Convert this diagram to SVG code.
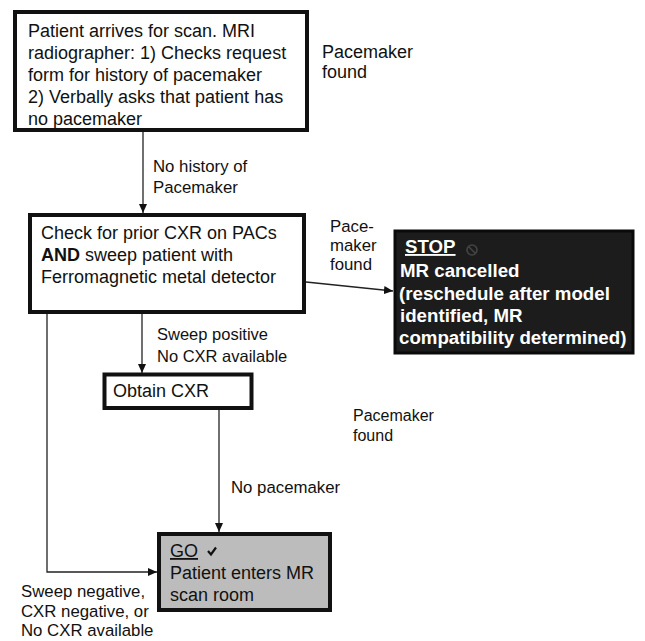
<svg xmlns="http://www.w3.org/2000/svg" width="645" height="641" viewBox="0 0 645 641">
<defs>
<style>
text{font-family:"Liberation Sans",Arial,sans-serif;font-size:18px;fill:#111}
.lb{font-size:16.8px}
.box{fill:#fff;stroke:#111;stroke-width:4}
.wt{fill:#fff;font-weight:bold;font-size:18.7px}
.ln{fill:none;stroke:#222;stroke-width:1.3}
</style>
<marker id="ah" markerWidth="10" markerHeight="10" refX="9" refY="5" orient="auto" markerUnits="userSpaceOnUse">
<path d="M0,1 L9,5 L0,9 z" fill="#111"/>
</marker>
</defs>
<rect width="645" height="641" fill="#fff"/>
<g id="connectors">
<line class="ln" x1="143" y1="132" x2="143" y2="213" marker-end="url(#ah)"/>
<line class="ln" x1="306" y1="282" x2="393" y2="291" marker-end="url(#ah)"/>
<line class="ln" x1="142" y1="314" x2="142" y2="373" marker-end="url(#ah)"/>
<line class="ln" x1="219" y1="409" x2="219" y2="532" marker-end="url(#ah)"/>
<polyline class="ln" points="47,314 47,572 157,572" marker-end="url(#ah)"/>
</g>
<g id="labels">
<text x="322" y="58">Pacemaker</text>
<text x="322" y="78">found</text>
<text class="lb" x="153" y="172">No history of</text>
<text class="lb" x="153" y="193">Pacemaker</text>
<text class="lb" x="330" y="232">Pace-</text>
<text class="lb" x="330" y="251">maker</text>
<text class="lb" x="330" y="270">found</text>
<text class="lb" x="157" y="340" style="font-size:16.5px">Sweep positive</text>
<text class="lb" x="157" y="362" style="font-size:16.5px">No CXR available</text>
<text x="353" y="421" style="font-size:16px">Pacemaker</text>
<text x="353" y="441" style="font-size:16px">found</text>
<text class="lb" x="231" y="493">No pacemaker</text>
<text class="lb" x="21" y="597">Sweep negative,</text>
<text class="lb" x="21" y="616.5">CXR negative, or</text>
<text class="lb" x="21" y="636">No CXR available</text>
</g>
<g id="n1">
<rect class="box" x="15" y="12" width="292" height="118"/>
<text x="28" y="37">Patient arrives for scan. MRI</text>
<text x="28" y="59">radiographer: 1) Checks request</text>
<text x="28" y="81">form for history of pacemaker</text>
<text x="28" y="103">2) Verbally asks that patient has</text>
<text x="28" y="124.5">no pacemaker</text>
</g>
<g id="n2">
<rect class="box" x="30" y="215" width="274" height="97"/>
<text x="41" y="239">Check for prior CXR on PACs</text>
<text x="41" y="261"><tspan font-weight="bold">AND</tspan> sweep patient with</text>
<text x="41" y="283">Ferromagnetic metal detector</text>
</g>
<g id="n3">
<rect x="395" y="231" width="238" height="122" fill="#1c1c1c" stroke="#0a0a0a" stroke-width="3"/>
<text class="wt" x="405" y="253" text-decoration="underline">STOP</text>
<circle cx="472" cy="250" r="5" fill="none" stroke="#444" stroke-width="1.6"/>
<line x1="468.5" y1="246.5" x2="475.5" y2="253.5" stroke="#444" stroke-width="1.6"/>
<text class="wt" x="400" y="277">MR cancelled</text>
<text class="wt" x="399" y="299.5">(reschedule after model</text>
<text class="wt" x="400" y="322">identified, MR</text>
<text class="wt" x="399" y="344">compatibility determined)</text>
</g>
<g id="n4">
<rect class="box" x="104.5" y="374.5" width="147" height="33.5"/>
<text x="113" y="397">Obtain CXR</text>
</g>
<g id="n5">
<rect x="159" y="534" width="171" height="76" fill="#bcbcbc" stroke="#111" stroke-width="4"/>
<text x="170" y="557" text-decoration="underline">GO</text>
<path d="M208,551 l3,3.5 l5,-7" fill="none" stroke="#111" stroke-width="2.2"/>
<text x="170" y="579">Patient enters MR</text>
<text x="170" y="601">scan room</text>
</g>
</svg>
